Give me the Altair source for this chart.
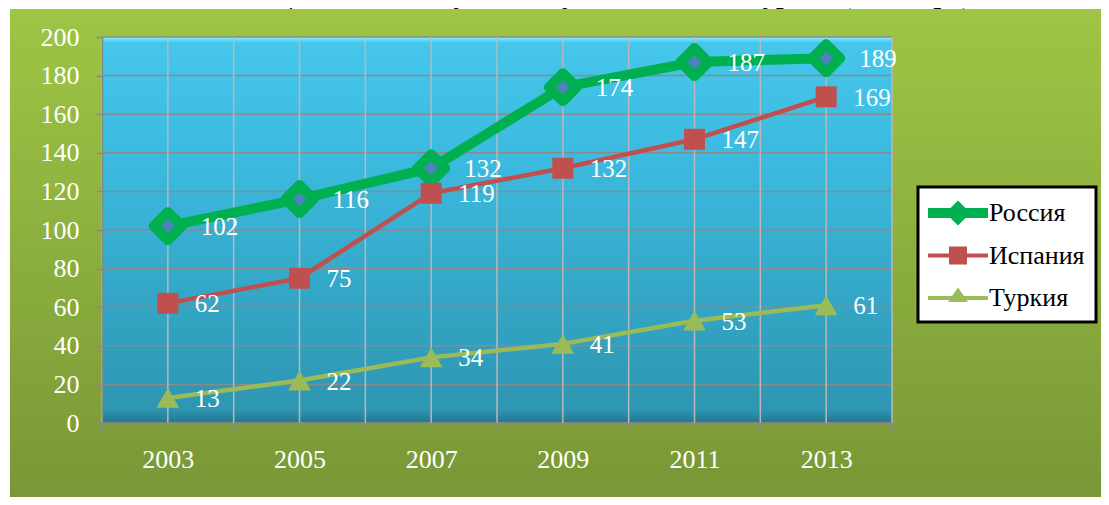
import altair as alt
import pandas as pd

# ---- data ----
title_text = "Ҳаҷми молиякунонии буҷавӣ ба соҳаи туризм (млн.евро)"
years = ["2003", "2005", "2007", "2009", "2011", "2013"]
series_names = ["Россия", "Испания", "Туркия"]
russia = [102, 116, 132, 174, 187, 189]
spain = [62, 75, 119, 132, 147, 169]
turkey = [13, 22, 34, 41, 53, 61]
y_ticks = [0, 20, 40, 60, 80, 100, 120, 140, 160, 180, 200]

colors = ["#00B050", "#C0504D", "#9BBB59"]
legend_paths = [
    "M-2,-0.33L2,-0.33L2,0.33L-2,0.33Z M0,-0.83L0.83,0L0,0.83L-0.83,0Z",
    "M-2,-0.13L2,-0.13L2,0.13L-2,0.13Z M-0.6,-0.6L0.6,-0.6L0.6,0.6L-0.6,0.6Z",
    "M-2,-0.13L2,-0.13L2,0.13L-2,0.13Z M0,-0.7L0.67,0.27L-0.67,0.27Z",
]

W, H = 790, 386
PL, PT, PR, PB = 94, 29, 209, 74

rows = []
for name, vals in zip(series_names, [russia, spain, turkey]):
    for yr, v in zip(years, vals):
        rows.append({"year": yr, "series": name, "value": v})
df = pd.DataFrame(rows)
grid_df = pd.DataFrame({"value": y_ticks})
year_df = pd.DataFrame({"year": years})
one = pd.DataFrame({"t": [title_text]})

FONT = "Liberation Serif"

X_AXIS = alt.Axis(title=None, labelAngle=0, zindex=1, grid=False, tickBand="extent",
                  tickSize=8, labelPadding=15, labelFont=FONT, labelFontSize=26,
                  labelColor="white", domainColor="#888888", domainWidth=1.5,
                  tickColor="#888888", tickWidth=1.5)
Y_AXIS = alt.Axis(title=None, values=y_ticks, zindex=1, grid=False,
                  tickSize=6, labelPadding=17, labelFont=FONT, labelFontSize=26,
                  labelColor="white", domainColor="#888888", domainWidth=1.5,
                  tickColor="#888888", tickWidth=1.5)


def X(band=None):
    kw = {}
    if band is not None:
        kw["bandPosition"] = band
    return alt.X(
        "year:O",
        scale=alt.Scale(type="band", domain=years, paddingInner=0, paddingOuter=0),
        axis=X_AXIS,
        **kw,
    )


def Y():
    return alt.Y(
        "value:Q",
        scale=alt.Scale(domain=[0, 200], nice=False, zero=True),
        axis=Y_AXIS,
    )


LEG = alt.Legend(title=None, labelFont=FONT, labelFontSize=26, labelColor="black")

layers = []

# legend source layer (drawn first, hidden under backgrounds)
layers.append(
    alt.Chart(df)
    .mark_point(filled=True, strokeWidth=0, size=30, opacity=1)
    .encode(
        x=X(),
        y=Y(),
        color=alt.Color(
            "series:N",
            scale=alt.Scale(domain=series_names, range=colors),
            legend=LEG,
        ),
        shape=alt.Shape(
            "series:N",
            scale=alt.Scale(domain=series_names, range=legend_paths),
            legend=LEG,
        ),
    )
)

# chart background (green gradient)
layers.append(
    alt.Chart(one)
    .mark_rect(
        fill=alt.LinearGradient(
            gradient="linear",
            stops=[
                alt.GradientStop(color="#9EC545", offset=0),
                alt.GradientStop(color="#8BAF3E", offset=0.5),
                alt.GradientStop(color="#799736", offset=1),
            ],
            x1=0, x2=0, y1=0, y2=1,
        )
    )
    .encode(
        x=alt.value(-PL + 2), x2=alt.value(W + PR),
        y=alt.value(-PT + 1), y2=alt.value(H + PB),
    )
)

# plot area background (blue gradient with bevel)
layers.append(
    alt.Chart(one)
    .mark_rect(
        fill=alt.LinearGradient(
            gradient="linear",
            stops=[
                alt.GradientStop(color="#86F2FF", offset=0),
                alt.GradientStop(color="#45C6EA", offset=0.015),
                alt.GradientStop(color="#3CBBE0", offset=0.3),
                alt.GradientStop(color="#2E96B2", offset=0.965),
                alt.GradientStop(color="#24768C", offset=1),
            ],
            x1=0, x2=0, y1=0, y2=1,
        )
    )
    .encode(x=alt.value(0), x2=alt.value(W), y=alt.value(0), y2=alt.value(H))
)

# title (cut off at top like the reference)
layers.append(
    alt.Chart(one)
    .mark_text(font=FONT, fontSize=27, fontWeight="bold", color="black",
               baseline="bottom", align="center")
    .encode(text="t:N", x=alt.value(520), y=alt.value(-PT + 1))
)

# horizontal gridlines
layers.append(
    alt.Chart(grid_df)
    .mark_rule(color="#8A8A8A", strokeWidth=1.5)
    .encode(y=Y(), x=alt.value(0), x2=alt.value(W))
)

# vertical gridlines at band centres and edges
layers.append(
    alt.Chart(year_df)
    .mark_rule(color="#B8B8B8", strokeWidth=1.5)
    .encode(x=X(0.5), y=alt.value(0), y2=alt.value(H))
)
layers.append(
    alt.Chart(year_df)
    .mark_rule(color="#B8B8B8", strokeWidth=1.5)
    .encode(x=X(0), y=alt.value(0), y2=alt.value(H))
)
layers.append(
    alt.Chart(year_df)
    .transform_filter(alt.datum.year == years[-1])
    .mark_rule(color="#B8B8B8", strokeWidth=1.5)
    .encode(x=X(1), y=alt.value(0), y2=alt.value(H))
)

line_widths = [10, 4.5, 4.5]
for i, name in enumerate(series_names):
    base = alt.Chart(df).transform_filter(alt.datum.series == name)
    layers.append(
        base.mark_line(color=colors[i], strokeWidth=line_widths[i],
                       strokeJoin="round", strokeCap="round")
        .encode(x=X(), y=Y(), order="year:O")
    )
    if i == 0:
        pt = base.mark_point(shape="diamond", filled=True, fill="#4F81BD",
                             stroke="#00B050", strokeWidth=10, size=784,
                             strokeJoin="round", opacity=1)
    elif i == 1:
        pt = base.mark_point(shape="square", filled=True, color=colors[1],
                             size=441, strokeWidth=0, opacity=1)
    else:
        pt = base.mark_point(shape="triangle-up", filled=True, color=colors[2],
                             size=520, strokeWidth=0, opacity=1)
    layers.append(pt.encode(x=X(), y=Y()))

for i, name in enumerate(series_names):
    base = alt.Chart(df).transform_filter(alt.datum.series == name)
    layers.append(
        base.mark_text(align="left", baseline="middle", dx=33 if i == 0 else 27, dy=1,
                       font=FONT, fontSize=25, color="white")
        .encode(x=X(), y=Y(), text="value:Q")
    )

chart = (
    alt.layer(*layers)
    .properties(width=W, height=H, autosize="none",
                padding={"left": PL, "top": PT, "right": PR, "bottom": PB})
    .configure(background="white")
    .configure_view(stroke=None)
    .configure_legend(
        orient="none",
        legendX=816,
        legendY=150,
        padding=11,
        fillColor="white",
        strokeColor="black",
        strokeWidth=3,
        cornerRadius=0,
        labelFont=FONT,
        labelFontSize=26,
        labelColor="black",
        labelLimit=300,
        symbolSize=900,
        symbolOffset=14,
        labelOffset=16,
        rowPadding=14.5,
        symbolStrokeWidth=0,
        symbolOpacity=1,
    )
)

chart.save("out.html", embed_options={"renderer": "svg", "actions": False})
